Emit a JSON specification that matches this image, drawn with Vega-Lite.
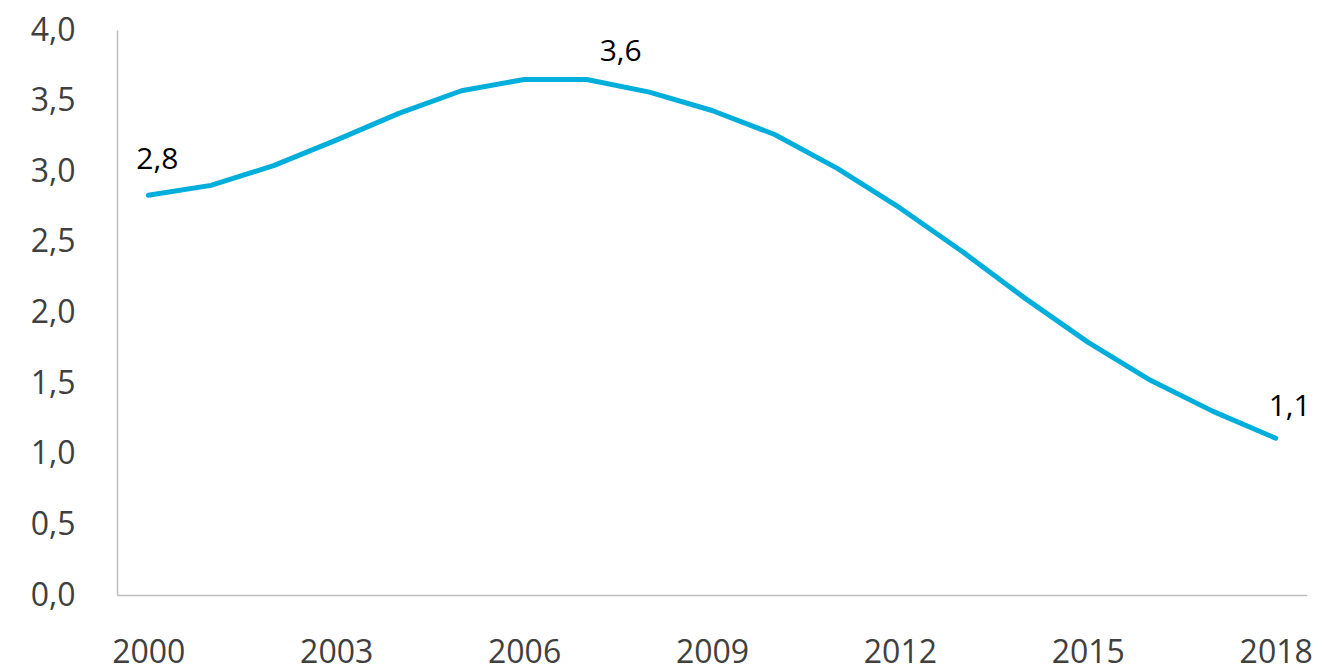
{
  "$schema": "https://vega.github.io/schema/vega-lite/v6.json",
  "width": 1190,
  "height": 565,
  "autosize": "none",
  "padding": {"left": 117, "top": 30, "right": 16, "bottom": 77},
  "background": "white",
  "config": {"view": {"stroke": null}, "font": "Open Sans"},
  "data": {"values": [
    {"year": 2000, "value": 2.83, "label": "2,8"},
    {"year": 2001, "value": 2.90},
    {"year": 2002, "value": 3.04},
    {"year": 2003, "value": 3.22},
    {"year": 2004, "value": 3.41},
    {"year": 2005, "value": 3.57},
    {"year": 2006, "value": 3.65},
    {"year": 2007, "value": 3.65, "label": "3,6"},
    {"year": 2008, "value": 3.56},
    {"year": 2009, "value": 3.43},
    {"year": 2010, "value": 3.26},
    {"year": 2011, "value": 3.02},
    {"year": 2012, "value": 2.74},
    {"year": 2013, "value": 2.43},
    {"year": 2014, "value": 2.10},
    {"year": 2015, "value": 1.79},
    {"year": 2016, "value": 1.52},
    {"year": 2017, "value": 1.30},
    {"year": 2018, "value": 1.11, "label": "1,1"}
  ]},
  "encoding": {
    "x": {"field": "year", "type": "quantitative",
      "scale": {"domain": [1999.5, 2018.5], "nice": false, "zero": false},
      "axis": {"values": [2000, 2003, 2006, 2009, 2012, 2015, 2018], "format": "d", "title": null,
        "grid": false, "ticks": false, "domainColor": "#BFBFBF", "domainWidth": 1.5,
        "labelFontSize": 32, "labelColor": "#404040", "labelPadding": 42, "labelFont": "Open Sans"}},
    "y": {"field": "value", "type": "quantitative",
      "scale": {"domain": [0, 4], "nice": false},
      "axis": {"values": [0, 0.5, 1, 1.5, 2, 2.5, 3, 3.5, 4], "title": null, "grid": false, "ticks": false,
        "domainColor": "#BFBFBF", "domainWidth": 1.5,
        "labelExpr": "replace(format(datum.value, '.1f'), '.', ',')",
        "labelFontSize": 32, "labelColor": "#404040", "labelPadding": 42, "labelFont": "Open Sans"}}
  },
  "layer": [
    {"mark": {"type": "line", "color": "#00AEDB", "strokeWidth": 5, "strokeCap": "round", "strokeJoin": "round"}},
    {"transform": [{"filter": "datum.year == 2000"}],
     "mark": {"type": "text", "fontSize": 30, "color": "#000000", "dx": 9, "dy": -35, "font": "Open Sans"},
     "encoding": {"text": {"field": "label"}}},
    {"transform": [{"filter": "datum.year == 2007"}],
     "mark": {"type": "text", "fontSize": 30, "color": "#000000", "dx": 34, "dy": -27, "font": "Open Sans"},
     "encoding": {"text": {"field": "label"}}},
    {"transform": [{"filter": "datum.year == 2018"}],
     "mark": {"type": "text", "fontSize": 30, "color": "#000000", "dx": 14, "dy": -31, "font": "Open Sans"},
     "encoding": {"text": {"field": "label"}}}
  ]
}
